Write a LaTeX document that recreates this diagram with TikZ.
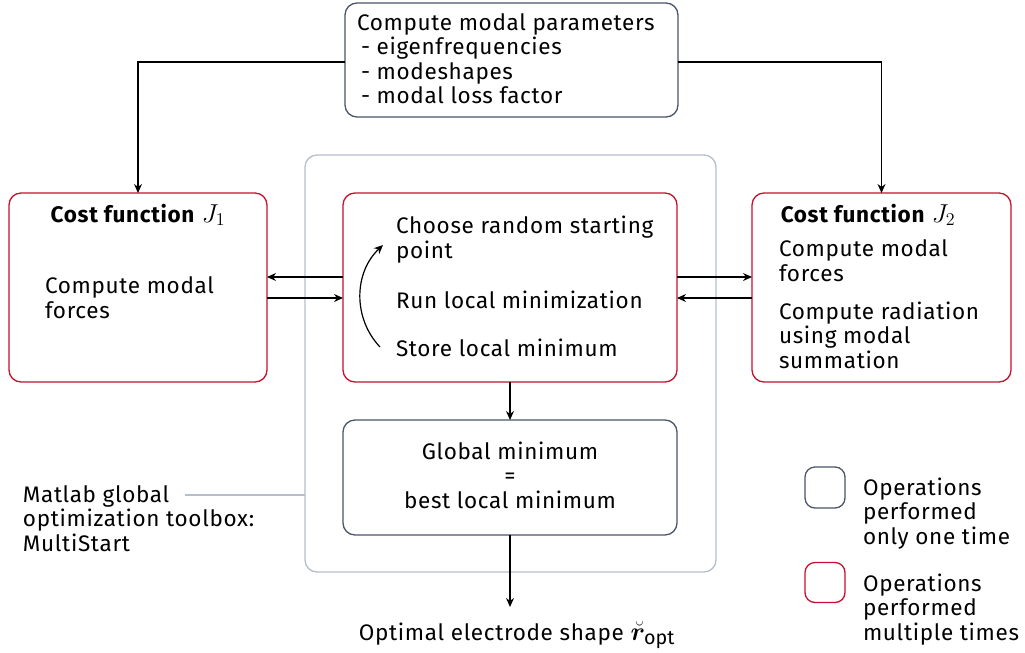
\documentclass[tikz,border=0pt]{standalone}
\usepackage{amsmath}
\usepackage{bm}
\usepackage{fontspec}
\setmainfont[LetterSpace=3]{Fira Sans}
\usetikzlibrary{arrows.meta}
\definecolor{redc}{HTML}{C8102E}
\definecolor{slate}{HTML}{4A5568}
\definecolor{lightc}{HTML}{B4BECC}
\newcommand{\mymathbig}[1]{\scalebox{1.25}{$#1$}}
\begin{document}
\begin{tikzpicture}[x=1pt,y=-1pt,
  every node/.style={font=\fontsize{22.5}{24.5}\selectfont, inner sep=0pt, outer sep=0pt},
  onebox/.style={draw=slate, line width=1.3pt, rounded corners=12pt},
  multibox/.style={draw=redc, line width=1.3pt, rounded corners=12pt},
  contbox/.style={draw=lightc, line width=1.3pt, rounded corners=12pt},
  arr/.style={draw=black, line width=1.2pt, -{Stealth[length=9pt,width=8pt]}},
  txt/.style={anchor=base west, align=left},
  ctxt/.style={anchor=base, align=center}]
\useasboundingbox (0,0) rectangle (1025,653);
% boxes
\node[contbox, minimum width=411pt, minimum height=417pt] (cont) at (510.5,363.5) {};
\node[onebox, minimum width=333pt, minimum height=114pt] (top) at (511.5,60) {};
\node[multibox, minimum width=258pt, minimum height=189pt] (left) at (138,287.5) {};
\node[multibox, minimum width=334pt, minimum height=189pt] (mid) at (510,287.5) {};
\node[multibox, minimum width=259pt, minimum height=189pt] (right) at (881.5,287.5) {};
\node[onebox, minimum width=334pt, minimum height=115pt] (glob) at (510,477.5) {};
\node[onebox, rounded corners=10pt, minimum width=40pt, minimum height=41pt] (legone) at (825,487.5) {};
\node[multibox, rounded corners=10pt, minimum width=40pt, minimum height=40pt] (legmulti) at (825,582.5) {};
% texts (base anchor = baseline of last line)
\node[txt] (ttop) at (357,103.5) {Compute modal parameters\\\hspace{4pt}- eigenfrequencies\\\hspace{4pt}- modeshapes\\\hspace{4pt}- modal loss factor};
\node[ctxt] (tl1) at (138,222) {\textbf{Cost function} \mymathbig{J_1}};
\node[txt] (tl2) at (45,318) {Compute modal\\forces};
\node[ctxt] (tr1) at (868,222) {\textbf{Cost function} \mymathbig{J_2}};
\node[txt] (tr2) at (779,281) {Compute modal\\forces};
\node[txt] (tr3) at (779,368) {Compute radiation\\using modal\\summation};
\node[txt] (tm1) at (396,258) {Choose random starting\\point};
\node[txt] (tm2) at (396,308) {Run local minimization};
\node[txt] (tm3) at (396,356) {Store local minimum};
\node[ctxt] (tg) at (510,508) {Global minimum\\=\\best local minimum};
\node[txt] (tmat) at (23,551) {Matlab global\\optimization toolbox:\\MultiStart};
\node[txt] (tleg1) at (863,544) {Operations\\performed\\only one time};
\node[txt] (tleg2) at (863,640) {Operations\\performed\\multiple times};
\node[ctxt] (out) at (517,640) {Optimal electrode shape \mymathbig{\breve{\bm{r}}_{\mathrm{opt}}}};
% connectors
\draw[arr] ([yshift=-2pt]top.west) -| (left.north);
\draw[arr] ([yshift=-2pt]top.east) -| (right.north);
\draw[arr] ([yshift=10.5pt]mid.west) -- ([yshift=10.5pt]left.east);
\draw[arr] ([yshift=-10.5pt]left.east) -- ([yshift=-10.5pt]mid.west);
\draw[arr] ([yshift=10.5pt]mid.east) -- ([yshift=10.5pt]right.west);
\draw[arr] ([yshift=-10.5pt]right.west) -- ([yshift=-10.5pt]mid.east);
\draw[arr] (mid.south) -- (glob.north);
\coordinate (outtop) at (510,607);
\draw[arr] (glob.south) -- (outtop);
\coordinate (cb) at (380,347);
\coordinate (ct) at (383,245);
\draw[arr] (cb) to[bend left=45] (ct);
\coordinate (matend) at (185,495);
\draw[draw=lightc, line width=1.3pt] (matend) -- (matend -| cont.west);
\end{tikzpicture}
\end{document}
